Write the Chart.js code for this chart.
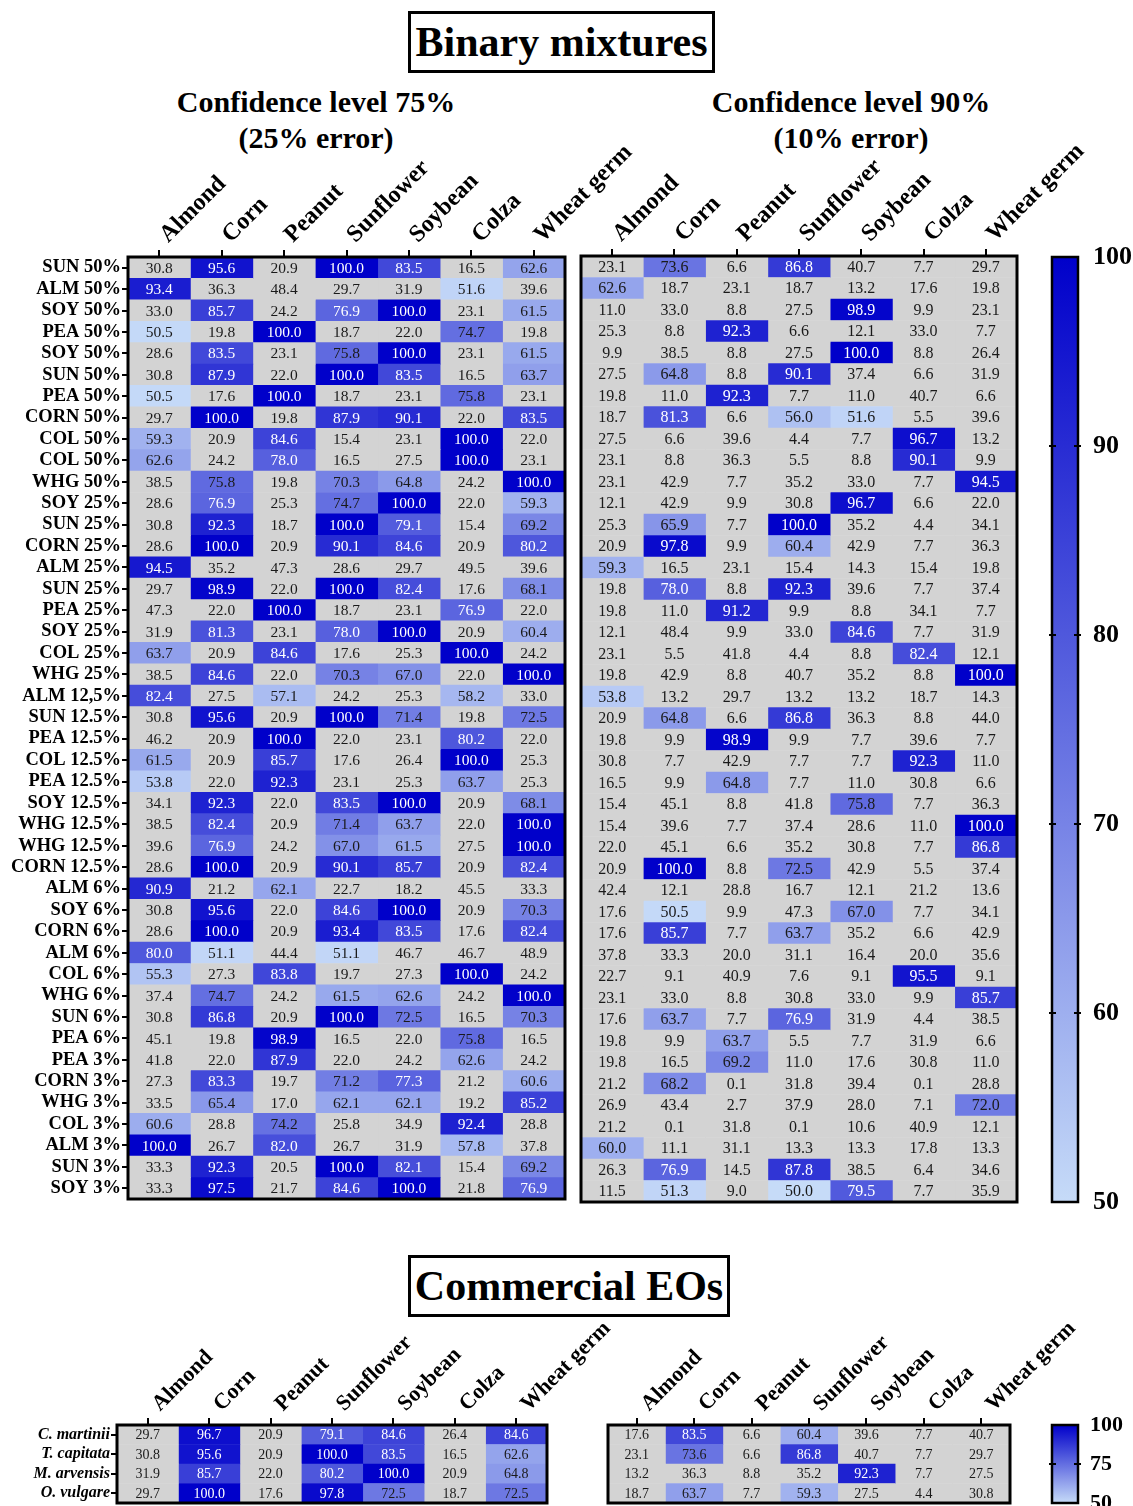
<!DOCTYPE html>
<html><head><meta charset="utf-8">
<script src="https://cdn.jsdelivr.net/npm/chart.js@4"></script>
<style>
body{margin:0;background:#fff;width:1133px;height:1506px;position:relative;overflow:hidden;font-family:"Liberation Serif","Times New Roman",serif;}
canvas{position:absolute;}
.box{position:absolute;border:3px solid #000;box-sizing:border-box;font-weight:bold;font-size:42px;text-align:center;white-space:nowrap;}
.sub{position:absolute;font-weight:bold;font-size:30px;text-align:center;line-height:36px;white-space:nowrap;}
</style></head><body>
<div class="box" style="left:408px;top:11px;width:307px;height:62px;line-height:56px;">Binary mixtures</div>
<div class="sub" style="left:116px;top:84px;width:400px;">Confidence level 75%<br>(25% error)</div>
<div class="sub" style="left:651px;top:84px;width:400px;">Confidence level 90%<br>(10% error)</div>
<div class="box" style="left:408px;top:1255px;width:322px;height:62px;line-height:56px;">Commercial EOs</div>

<canvas id="cA" width="660" height="1075" style="left:0;top:140px"></canvas>
<canvas id="cB" width="563" height="1075" style="left:570px;top:140px"></canvas>
<canvas id="cC" width="93" height="1000" style="left:1040px;top:230px"></canvas>
<canvas id="cD" width="640" height="196" style="left:0;top:1310px"></canvas>
<canvas id="cE" width="543" height="196" style="left:590px;top:1310px"></canvas>
<canvas id="cF" width="93" height="106" style="left:1040px;top:1400px"></canvas>

<script>
const columns = ['Almond','Corn','Peanut','Sunflower','Soybean','Colza','Wheat germ'];

const mixtureRows = ['SUN 50%','ALM 50%','SOY 50%','PEA 50%','SOY 50%','SUN 50%','PEA 50%','CORN 50%','COL 50%','COL 50%','WHG 50%',
 'SOY 25%','SUN 25%','CORN 25%','ALM 25%','SUN 25%','PEA 25%','SOY 25%','COL 25%','WHG 25%',
 'ALM 12,5%','SUN 12.5%','PEA 12.5%','COL 12.5%','PEA 12.5%','SOY 12.5%','WHG 12.5%','WHG 12.5%','CORN 12.5%',
 'ALM 6%','SOY 6%','CORN 6%','ALM 6%','COL 6%','WHG 6%','SUN 6%','PEA 6%',
 'PEA 3%','CORN 3%','WHG 3%','COL 3%','ALM 3%','SUN 3%','SOY 3%'];

const conf75 = [
 [30.8,95.6,20.9,100.0,83.5,16.5,62.6],
 [93.4,36.3,48.4,29.7,31.9,51.6,39.6],
 [33.0,85.7,24.2,76.9,100.0,23.1,61.5],
 [50.5,19.8,100.0,18.7,22.0,74.7,19.8],
 [28.6,83.5,23.1,75.8,100.0,23.1,61.5],
 [30.8,87.9,22.0,100.0,83.5,16.5,63.7],
 [50.5,17.6,100.0,18.7,23.1,75.8,23.1],
 [29.7,100.0,19.8,87.9,90.1,22.0,83.5],
 [59.3,20.9,84.6,15.4,23.1,100.0,22.0],
 [62.6,24.2,78.0,16.5,27.5,100.0,23.1],
 [38.5,75.8,19.8,70.3,64.8,24.2,100.0],
 [28.6,76.9,25.3,74.7,100.0,22.0,59.3],
 [30.8,92.3,18.7,100.0,79.1,15.4,69.2],
 [28.6,100.0,20.9,90.1,84.6,20.9,80.2],
 [94.5,35.2,47.3,28.6,29.7,49.5,39.6],
 [29.7,98.9,22.0,100.0,82.4,17.6,68.1],
 [47.3,22.0,100.0,18.7,23.1,76.9,22.0],
 [31.9,81.3,23.1,78.0,100.0,20.9,60.4],
 [63.7,20.9,84.6,17.6,25.3,100.0,24.2],
 [38.5,84.6,22.0,70.3,67.0,22.0,100.0],
 [82.4,27.5,57.1,24.2,25.3,58.2,33.0],
 [30.8,95.6,20.9,100.0,71.4,19.8,72.5],
 [46.2,20.9,100.0,22.0,23.1,80.2,22.0],
 [61.5,20.9,85.7,17.6,26.4,100.0,25.3],
 [53.8,22.0,92.3,23.1,25.3,63.7,25.3],
 [34.1,92.3,22.0,83.5,100.0,20.9,68.1],
 [38.5,82.4,20.9,71.4,63.7,22.0,100.0],
 [39.6,76.9,24.2,67.0,61.5,27.5,100.0],
 [28.6,100.0,20.9,90.1,85.7,20.9,82.4],
 [90.9,21.2,62.1,22.7,18.2,45.5,33.3],
 [30.8,95.6,22.0,84.6,100.0,20.9,70.3],
 [28.6,100.0,20.9,93.4,83.5,17.6,82.4],
 [80.0,51.1,44.4,51.1,46.7,46.7,48.9],
 [55.3,27.3,83.8,19.7,27.3,100.0,24.2],
 [37.4,74.7,24.2,61.5,62.6,24.2,100.0],
 [30.8,86.8,20.9,100.0,72.5,16.5,70.3],
 [45.1,19.8,98.9,16.5,22.0,75.8,16.5],
 [41.8,22.0,87.9,22.0,24.2,62.6,24.2],
 [27.3,83.3,19.7,71.2,77.3,21.2,60.6],
 [33.5,65.4,17.0,62.1,62.1,19.2,85.2],
 [60.6,28.8,74.2,25.8,34.9,92.4,28.8],
 [100.0,26.7,82.0,26.7,31.9,57.8,37.8],
 [33.3,92.3,20.5,100.0,82.1,15.4,69.2],
 [33.3,97.5,21.7,84.6,100.0,21.8,76.9]
];

const conf90 = [
 [23.1,73.6,6.6,86.8,40.7,7.7,29.7],
 [62.6,18.7,23.1,18.7,13.2,17.6,19.8],
 [11.0,33.0,8.8,27.5,98.9,9.9,23.1],
 [25.3,8.8,92.3,6.6,12.1,33.0,7.7],
 [9.9,38.5,8.8,27.5,100.0,8.8,26.4],
 [27.5,64.8,8.8,90.1,37.4,6.6,31.9],
 [19.8,11.0,92.3,7.7,11.0,40.7,6.6],
 [18.7,81.3,6.6,56.0,51.6,5.5,39.6],
 [27.5,6.6,39.6,4.4,7.7,96.7,13.2],
 [23.1,8.8,36.3,5.5,8.8,90.1,9.9],
 [23.1,42.9,7.7,35.2,33.0,7.7,94.5],
 [12.1,42.9,9.9,30.8,96.7,6.6,22.0],
 [25.3,65.9,7.7,100.0,35.2,4.4,34.1],
 [20.9,97.8,9.9,60.4,42.9,7.7,36.3],
 [59.3,16.5,23.1,15.4,14.3,15.4,19.8],
 [19.8,78.0,8.8,92.3,39.6,7.7,37.4],
 [19.8,11.0,91.2,9.9,8.8,34.1,7.7],
 [12.1,48.4,9.9,33.0,84.6,7.7,31.9],
 [23.1,5.5,41.8,4.4,8.8,82.4,12.1],
 [19.8,42.9,8.8,40.7,35.2,8.8,100.0],
 [53.8,13.2,29.7,13.2,13.2,18.7,14.3],
 [20.9,64.8,6.6,86.8,36.3,8.8,44.0],
 [19.8,9.9,98.9,9.9,7.7,39.6,7.7],
 [30.8,7.7,42.9,7.7,7.7,92.3,11.0],
 [16.5,9.9,64.8,7.7,11.0,30.8,6.6],
 [15.4,45.1,8.8,41.8,75.8,7.7,36.3],
 [15.4,39.6,7.7,37.4,28.6,11.0,100.0],
 [22.0,45.1,6.6,35.2,30.8,7.7,86.8],
 [20.9,100.0,8.8,72.5,42.9,5.5,37.4],
 [42.4,12.1,28.8,16.7,12.1,21.2,13.6],
 [17.6,50.5,9.9,47.3,67.0,7.7,34.1],
 [17.6,85.7,7.7,63.7,35.2,6.6,42.9],
 [37.8,33.3,20.0,31.1,16.4,20.0,35.6],
 [22.7,9.1,40.9,7.6,9.1,95.5,9.1],
 [23.1,33.0,8.8,30.8,33.0,9.9,85.7],
 [17.6,63.7,7.7,76.9,31.9,4.4,38.5],
 [19.8,9.9,63.7,5.5,7.7,31.9,6.6],
 [19.8,16.5,69.2,11.0,17.6,30.8,11.0],
 [21.2,68.2,0.1,31.8,39.4,0.1,28.8],
 [26.9,43.4,2.7,37.9,28.0,7.1,72.0],
 [21.2,0.1,31.8,0.1,10.6,40.9,12.1],
 [60.0,11.1,31.1,13.3,13.3,17.8,13.3],
 [26.3,76.9,14.5,87.8,38.5,6.4,34.6],
 [11.5,51.3,9.0,50.0,79.5,7.7,35.9]
];

const commercialRows = ['C. martinii','T. capitata','M. arvensis','O. vulgare'];
const comm75 = [
 [29.7,96.7,20.9,79.1,84.6,26.4,84.6],
 [30.8,95.6,20.9,100.0,83.5,16.5,62.6],
 [31.9,85.7,22.0,80.2,100.0,20.9,64.8],
 [29.7,100.0,17.6,97.8,72.5,18.7,72.5]
];
const comm90 = [
 [17.6,83.5,6.6,60.4,39.6,7.7,40.7],
 [23.1,73.6,6.6,86.8,40.7,7.7,29.7],
 [13.2,36.3,8.8,35.2,92.3,7.7,27.5],
 [18.7,63.7,7.7,59.3,27.5,4.4,30.8]
];

const mainBarTicks = [50,60,70,80,90,100];
const smallBarTicks = [50,75,100];
const scaleMin = 50, scaleMax = 100;

const FAM = '"Liberation Serif","Times New Roman",serif';
const LOW = [198,219,248], HIGH = [0,0,202], GREY = 'rgb(211,211,211)';

function cellColor(v){
  if (v < scaleMin) return GREY;
  const t = Math.min(1,(v-scaleMin)/(scaleMax-scaleMin));
  const c = LOW.map((l,k)=>Math.round(l+(HIGH[k]-l)*t));
  return `rgb(${c[0]},${c[1]},${c[2]})`;
}

const frame = (lw) => ({
  id:'frame',
  afterDraw(chart){
    const a = chart.chartArea, c = chart.ctx;
    c.save(); c.strokeStyle='#000'; c.lineWidth=lw;
    c.strokeRect(a.left, a.top, a.right-a.left, a.bottom-a.top);
    c.restore();
  }
});

const cellText = (vals, size) => ({
  id:'cellText',
  afterDatasetsDraw(chart){
    const c = chart.ctx; c.save();
    c.font = `${size}px ${FAM}`; c.textAlign='center'; c.textBaseline='middle';
    chart.data.datasets.forEach((ds,j)=>{
      chart.getDatasetMeta(j).data.forEach((el,i)=>{
        const v = vals[i][j];
        const p = el.getProps(['x','y','base'], true);
        c.fillStyle = v >= 76 ? '#fff' : '#1a1a1a';
        c.fillText(v.toFixed(1), (p.x+p.base)/2, p.y+1);
      });
    });
    c.restore();
  }
});

function heatmap(id, rows, vals, o){
  return new Chart(document.getElementById(id), {
    type:'bar',
    data:{
      labels: rows,
      datasets: columns.map((col,j)=>({
        label: col,
        data: rows.map(()=>1),
        backgroundColor: rows.map((r,i)=>cellColor(vals[i][j])),
        borderWidth:0, barPercentage:1, categoryPercentage:1,
        xAxisID:'x', yAxisID:'y'
      }))
    },
    options:{
      indexAxis:'y', responsive:false, animation:false, devicePixelRatio:1,
      layout:{padding:o.pad},
      plugins:{legend:{display:false}, tooltip:{enabled:false}},
      scales:{
        x:{type:'linear', stacked:true, min:0, max:columns.length, display:false},
        x2:{type:'category', labels:columns, position:'top', offset:true,
          grid:{offset:false, drawOnChartArea:false, tickLength:7, color:'#000', lineWidth:2},
          border:{display:false},
          ticks:{autoSkip:false, minRotation:45, maxRotation:45, padding:1, labelOffset:o.labOff, color:'#000',
                 font:{family:FAM, weight:'bold', size:o.colFont}},
          afterFit:s=>{s.height=o.top; s.paddingLeft=0; s.paddingRight=0;}
        },
        y:{type:'category', stacked:true, display:o.showRows, offset:true,
          grid:{offset:false, drawOnChartArea:false, tickLength:6, color:'#000', lineWidth:2},
          border:{display:false},
          ticks:{autoSkip:false, padding:1, color:'#000',
                 font:{family:FAM, weight:'bold', style:o.rowStyle||'normal', size:o.rowFont}},
          afterFit:s=>{s.width=o.left; s.paddingTop=0; s.paddingBottom=0;}
        }
      }
    },
    plugins:[cellText(vals,o.valFont), frame(3)]
  });
}

function colorbar(id, tickVals, o){
  return new Chart(document.getElementById(id), {
    type:'bar',
    data:{labels:[''], datasets:[{
      data:[[scaleMin, scaleMax]],
      backgroundColor:(ctx)=>{
        const ch = ctx.chart, a = ch.chartArea;
        if (!a) return cellColor(75);
        const g = ch.ctx.createLinearGradient(0,a.bottom,0,a.top);
        for (let k=0;k<=10;k++) g.addColorStop(k/10, cellColor(scaleMin+(scaleMax-scaleMin)*k/10));
        return g;
      },
      borderWidth:0, barPercentage:1, categoryPercentage:1
    }]},
    options:{
      responsive:false, animation:false, devicePixelRatio:1,
      layout:{padding:o.pad},
      plugins:{legend:{display:false}, tooltip:{enabled:false}},
      scales:{
        x:{display:false},
        y:{position:'right', min:scaleMin, max:scaleMax,
          afterBuildTicks:s=>{s.ticks = tickVals.map(v=>({value:v}));},
          grid:{display:false}, border:{display:false},
          ticks:{padding:o.tickPad, color:'#000', font:{family:FAM, weight:'bold', size:o.font}},
          afterFit:s=>{s.width=o.width; s.paddingTop=0; s.paddingBottom=0;}
        }
      }
    },
    plugins:[frame(2.5), {
      id:'barTicks',
      afterDraw(chart){
        const a = chart.chartArea, c = chart.ctx, ys = chart.scales.y;
        c.save(); c.strokeStyle='#000'; c.lineWidth=2;
        tickVals.forEach(v=>{
          if (v===scaleMin || v===scaleMax) return;
          const y = ys.getPixelForValue(v);
          c.beginPath();
          c.moveTo(a.left-3,y); c.lineTo(a.left+4,y);
          c.moveTo(a.right-4,y); c.lineTo(a.right+3,y);
          c.stroke();
        });
        c.restore();
      }
    }]
  });
}

heatmap('cA', mixtureRows, conf75, {pad:{left:0,top:0,right:95,bottom:16}, top:117, left:128, showRows:true, colFont:24, rowFont:18.5, valFont:15.5, labOff:25});
heatmap('cB', mixtureRows, conf90, {pad:{left:11,top:0,right:116,bottom:13}, top:116, left:0, showRows:false, colFont:24, rowFont:18.5, valFont:16, labOff:25});
colorbar('cC', mainBarTicks, {pad:{left:12,top:27,right:0,bottom:28}, width:55, font:26, tickPad:7});
heatmap('cD', commercialRows, comm75, {pad:{left:0,top:0,right:93,bottom:3}, top:115, left:117, showRows:true, rowStyle:'italic', colFont:22, rowFont:16, valFont:14, labOff:27});
heatmap('cE', commercialRows, comm90, {pad:{left:18,top:0,right:123,bottom:3}, top:115, left:0, showRows:false, colFont:22, rowFont:16, valFont:14, labOff:27});
colorbar('cF', smallBarTicks, {pad:{left:12,top:25,right:0,bottom:3}, width:55, font:22, tickPad:4});
</script>
</body></html>
